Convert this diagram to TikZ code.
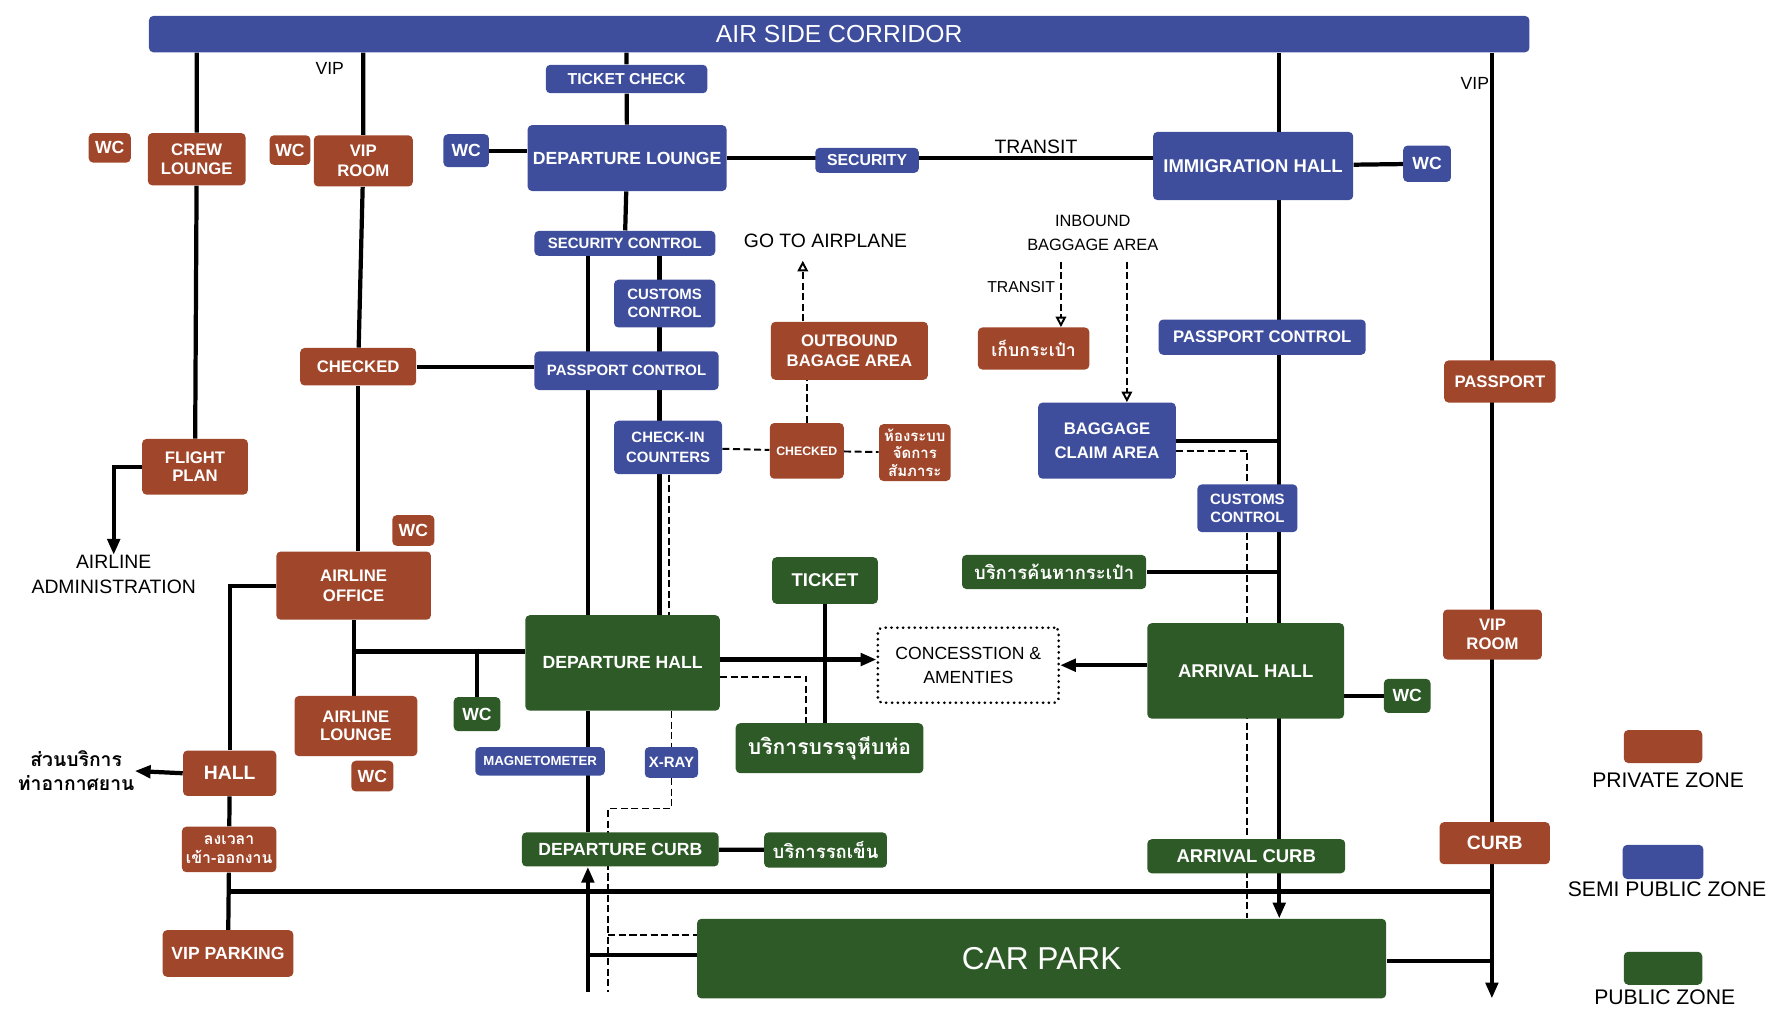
\documentclass[tikz,border=0pt]{standalone}
\usepackage{fontspec}
\setmainfont{Liberation Sans}
\newfontfamily\thaifont[Script=Thai]{Loma}
\usetikzlibrary{arrows.meta}
\definecolor{privbrown}{RGB}{160,70,42}
\definecolor{semiblue}{RGB}{62,78,156}
\definecolor{pubgreen}{RGB}{45,90,38}
\def\fz#1#2{\fontsize{#1}{#2}\selectfont\bfseries}
\def\tz#1#2{\thaifont\fontsize{#1}{#2}\selectfont\bfseries}
\def\zbox[#1](#2)(#3,#4,#5,#6)#7{\node[#1, minimum width={(#5-#3)*0.0227cm}, minimum height={(#6-#4)*0.0227cm}] (#2) at ({(#3+#5)/2},{(#4+#6)/2}) {#7};}
\pgfdeclarelayer{bg}
\pgfsetlayers{bg,main}

\begin{document}
\begin{tikzpicture}[x=0.0227cm, y=-0.0227cm,
  zone/.style={rounded corners=2.5pt, text=white, align=center, inner sep=1pt, font=\fz{10}{11.5}},
  priv/.style={zone, fill=privbrown},
  semi/.style={zone, fill=semiblue},
  pub/.style={zone, fill=pubgreen},
  link/.style={line width=2.4pt},
  dlink/.style={line width=1.1pt, dash pattern=on 4pt off 2pt},
  lbl/.style={font=\fontsize{11}{14}\selectfont, align=center, inner sep=0},
  tip/.style={-{Triangle[length=9pt,width=7pt]}},
  otip/.style={-{Triangle[open,length=6pt,width=6pt]}}]
\useasboundingbox (0,0) rectangle (1568,887);

%%%%% CORRIDOR %%%%%
\zbox[semi, font=\fontsize{14}{16}\selectfont](bar)(131,14,1345,46){AIR SIDE CORRIDOR}

%%%%% PRIVATE ZONE %%%%%
\zbox[priv](wcCrew)(78,117,115,143){WC}
\zbox[priv, font=\fz{9.5}{10.5}](crew)(130,117,216,163){CREW\\LOUNGE}
\zbox[priv](wcVip)(237,119,273,145){WC}
\zbox[priv, font=\fz{9.5}{11}](viproom)(276,119,363,164){VIP\\ROOM}
\zbox[priv, font=\fz{9.5}{11}](outb)(678,283,816,334){OUTBOUND\\BAGAGE AREA}
\zbox[priv, font=\tz{10}{12}](store)(860,288,958,325){เก็บกระเป๋า}
\zbox[priv, font=\fz{9.5}{11}](passp)(1270,317,1368,354){PASSPORT}
\zbox[priv, font=\fz{9.5}{11}](chkL)(264,306,366,339){CHECKED}
\zbox[priv, font=\fz{7}{8}](chkM)(677,372,742,421){CHECKED}
\zbox[priv, font=\tz{8.5}{10}](bagroom)(773,373,836,423){ห้องระบบ\\จัดการ\\สัมภาระ}
\zbox[priv, font=\fz{9.5}{10}](flight)(125,386,218,435){FLIGHT\\PLAN}
\zbox[priv](wcOffice)(345,453,382,480){WC}
\zbox[priv, font=\fz{9.5}{11.5}](office)(243,485,379,545){AIRLINE\\OFFICE}
\zbox[priv, font=\fz{9.5}{11}](viproomR)(1269,536,1356,580){VIP\\ROOM}
\zbox[priv, font=\fz{9.5}{10.5}](alounge)(259,612,367,665){AIRLINE\\LOUNGE}
\zbox[priv](wcLounge)(309,669,346,696){WC}
\zbox[priv, font=\fz{11}{12}](hall)(161,660,243,700){HALL}
\zbox[priv, font=\tz{9}{10.5}](clock)(160,727,243,767){ลงเวลา\\เข้า-ออกงาน}
\zbox[priv, font=\fz{11}{12}](curb)(1266,723,1363,760){CURB}
\zbox[priv](vpark)(143,818,258,859){VIP PARKING}

%%%%% SEMI PUBLIC ZONE %%%%%
\zbox[semi](wcLng)(390,118,430,147){WC}
\zbox[semi, font=\fz{9}{10}](tcheck)(480,57,622,82){TICKET CHECK}
\zbox[semi](lounge)(464,110,639,168){DEPARTURE LOUNGE}
\zbox[semi, font=\fz{9}{10}](sec)(717,130,808,152){SECURITY}
\zbox[semi, font=\fz{10.5}{12}](imm)(1014,116,1190,176){IMMIGRATION HALL}
\zbox[semi](wcImm)(1234,128,1276,160){WC}
\zbox[semi, font=\fz{8.5}{10}](secctl)(470,203,629,225){SECURITY CONTROL}
\zbox[semi, font=\fz{8.5}{10}](custL)(540,246,629,288){CUSTOMS\\CONTROL}
\zbox[semi, font=\fz{9.5}{11}](pcR)(1019,281,1201,312){PASSPORT CONTROL}
\zbox[semi, font=\fz{8.5}{10}](pcL)(470,309,632,343){PASSPORT CONTROL}
\zbox[semi, font=\fz{8.5}{11}](checkin)(540,370,635,417){CHECK-IN\\COUNTERS}
\zbox[semi, font=\fz{9.5}{13.5}](claim)(913,354,1034,421){BAGGAGE\\CLAIM AREA}
\zbox[semi, font=\fz{8.5}{10}](custR)(1053,426,1141,468){CUSTOMS\\CONTROL}
\zbox[semi, font=\fz{7.5}{9}](magnet)(418,657,532,682){MAGNETOMETER}
\zbox[semi, font=\fz{8.5}{10}](xray)(567,657,614,684){X-RAY}

%%%%% PUBLIC ZONE %%%%%
\zbox[pub, font=\fz{10.5}{12}](ticket)(679,490,772,531){TICKET}
\zbox[pub, font=\tz{10.5}{12}](search)(846,488,1008,518){บริการค้นหากระเป๋า}
\zbox[pub](dhall)(462,541,633,625){DEPARTURE HALL}
\zbox[pub, font=\fz{10.5}{12}](ahall)(1009,548,1182,632){ARRIVAL HALL}
\zbox[pub](wcArr)(1217,597,1258,627){WC}
\zbox[pub](wcDep)(399,613,440,643){WC}
\zbox[pub, font=\tz{12}{14}](pack)(647,636,812,680){บริการบรรจุหีบห่อ}
\zbox[pub](dcurb)(459,732,632,762){DEPARTURE CURB}
\zbox[pub, font=\tz{10.5}{12}](trolley)(672,732,780,763){บริการรถเข็น}
\zbox[pub, font=\fz{10.5}{12}](acurb)(1009,738,1183,768){ARRIVAL CURB}
\zbox[pub, font=\fontsize{18}{20}\selectfont](park)(613,808,1219,878){CAR PARK}

\zbox[zone, draw, line width=1.6pt, dash pattern=on 0.1pt off 3.2pt, line cap=round, text=black, font=\fontsize{10}{13.5}\selectfont](conc)(772,552,931,618){CONCESSTION \&\\AMENTIES}

%%%%% LABELS %%%%%
\node[lbl, font=\fontsize{10}{12}\selectfont] (vipL) at (290,60) {VIP};
\node[lbl, font=\fontsize{10}{12}\selectfont] (vipR) at (1297,73) {VIP};
\node[lbl] (transit) at (911,129) {TRANSIT};
\node[lbl] (airp) at (726,212) {GO TO AIRPLANE};
\node[lbl, font=\fontsize{9.3}{13.5}\selectfont] (inbound) at (961,205) {INBOUND\\BAGGAGE AREA};
\node[lbl, font=\fontsize{9}{11}\selectfont] (transit2) at (898,252) {TRANSIT};
\node[lbl] (admin) at (100,505) {AIRLINE\\ADMINISTRATION};
\node[lbl, font=\thaifont\fontsize{11}{13.5}\selectfont\bfseries] (svc) at (67,678) {ส่วนบริการ\\ท่าอากาศยาน};

%%%%% LEGEND %%%%%
\zbox[priv](lgPriv)(1428,642,1497,671){}
\zbox[semi](lgSemi)(1427,743,1498,773){}
\zbox[pub](lgPub)(1428,837,1497,866){}
\node[lbl, font=\fontsize{12}{14}\selectfont] (lgPrivT) at (1467,686) {PRIVATE ZONE};
\node[lbl, font=\fontsize{12}{14}\selectfont] (lgSemiT) at (1466,782) {SEMI PUBLIC ZONE};
\node[lbl, font=\fontsize{12}{14}\selectfont] (lgPubT) at (1464,877) {PUBLIC ZONE};

%%%%% CONNECTORS %%%%%
\coordinate (sp) at (1125,0);
\coordinate (vR) at (1312,0);
\coordinate (cl) at (517,0);
\coordinate (cr) at (580,0);
\coordinate (cd) at (588,0);
\coordinate (in1) at (933,230);
\coordinate (in2) at (991,230);
\coordinate (j1) at (312,573);
\coordinate (xd) at (535,711);
\begin{pgfonlayer}{bg}
\draw[link] (crew |- bar.south) -- (crew) -- (flight);
\draw[link, tip] (flight.west) -| (admin.north);
\draw[link] (viproom |- bar.south) -- (viproom) -- (chkL);
\draw[link] (chkL) -- (office.north -| chkL);
\draw[link] (office.south) -- (office.south |- alounge.north);
\draw[link] (chkL.east) -- (chkL.east -| pcL.west);
\draw[link] (j1) -- (j1 -| dhall.west);
\draw[link] (j1 -| wcDep) -- (wcDep);
\draw[link] (tcheck |- bar.south) -- (tcheck) -- (lounge) -- (secctl);
\draw[link] (wcLng.east) -- (wcLng.east -| lounge.west);
\draw[link] (lounge.east) -- (lounge.east -| imm.west);
\draw[link] (imm) -- (wcImm);
\draw[link, tip] (sp |- bar.south) -- (sp |- park.north);
\draw[link] (claim.east) -- (claim.east -| sp);
\draw[link] (search.east) -- (search.east -| sp);
\draw[dlink] ([yshift=-0.2cm]claim.east) -| (custR.north);
\draw[dlink] (custR.south) -- (custR.south |- park.north);
\draw[dlink, otip] (in1) -- (in1 |- store.north);
\draw[dlink, otip] (in2) -- (in2 |- claim.north);
\draw[dlink] (chkM.north) -- (chkM.north |- outb.south);
\draw[dlink, otip] ([xshift=-0.08cm]chkM.north |- outb.north) -- ([xshift=-0.08cm,yshift=-0.25cm]chkM.north |- airp.south);
\draw[dlink] (checkin) -- (chkM) -- (bagroom);
\draw[link] (secctl.south -| cl) -- (dhall.north -| cl);
\draw[link] (secctl.south -| cr) -- (dhall.north -| cr);
\draw[dlink] (checkin.south -| cd) -- (dhall.north -| cd);
\draw[link] (dhall.south -| cl) -- (dcurb.north -| cl);
\draw[link, tip] (cl |- 0,872) -- (dcurb.south -| cl);
\draw[link] (cl |- 0,840) -- (park.west |- 0,840);
\draw[dlink] (dhall.south -| xray) -- (xray);
\draw[dlink] (xray.south) |- (xd) -- (xd |- 0,872);
\draw[dlink] (xd |- 0,822) -- (park.west |- 0,822);
\draw[link, tip] (dhall.east |- 0,580) -- (conc.west |- 0,580);
\draw[link] (ticket) -- (ticket |- pack.north);
\draw[dlink] (dhall.east |- 0,595) -| (pack.north -| 709,0);
\draw[link, tip] (ahall.west |- 0,585) -- (conc.east |- 0,585);
\draw[link] (ahall.east |- wcArr) -- (wcArr.west);
\draw[link] (dcurb) -- (trolley);
\draw[link] (office.west) -| (hall.north);
\draw[link, tip] (hall.west) -- (svc.east);
\draw[link] (hall) -- (clock) -- (vpark);
\draw[link] (clock.south |- 0,784) -- (vR |- 0,784);
\draw[link, tip] (vR |- bar.south) -- (vR |- 0,878);
\draw[link] (park.east |- 0,845) -- (vR |- 0,845);
\end{pgfonlayer}
\end{tikzpicture}
\end{document}
